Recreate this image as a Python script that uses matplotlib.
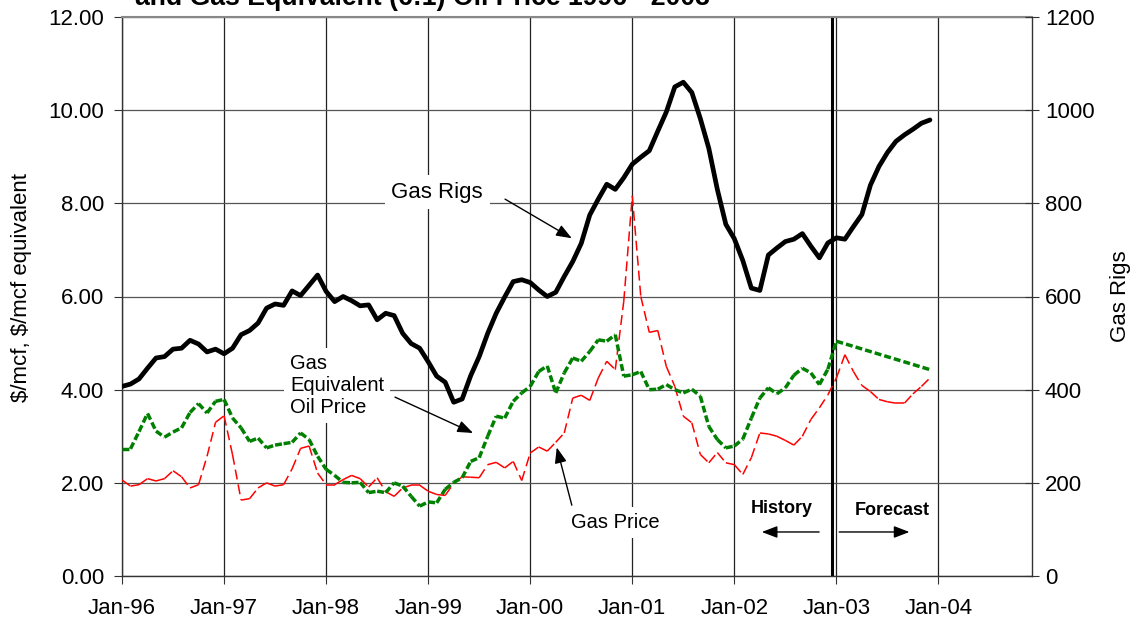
import numpy as np
import matplotlib
matplotlib.use('Agg')
import matplotlib.pyplot as plt
from matplotlib.collections import LineCollection

plt.rcParams['font.family'] = ['Liberation Sans', 'DejaVu Sans']
plt.rcParams['lines.scale_dashes'] = False

# ---------------- data (monthly, Jan-96 .. Dec-03) ----------------
x_tick_labels = ['Jan-96', 'Jan-97', 'Jan-98', 'Jan-99', 'Jan-00',
                 'Jan-01', 'Jan-02', 'Jan-03', 'Jan-04']

gas_rigs = [
    407, 412, 423, 446, 468, 471, 487, 489, 506, 498, 481, 487,   # 1996
    477, 489, 518, 527, 543, 575, 584, 581, 612, 602, 624, 646,   # 1997
    611, 589, 600, 591, 580, 582, 550, 564, 559, 521, 499, 489,   # 1998
    460, 429, 416, 373, 380, 430, 471, 521, 564, 599, 632, 636,   # 1999
    630, 614, 600, 609, 643, 675, 714, 775, 809, 841, 830, 855,   # 2000
    884, 899, 913, 955, 996, 1050, 1060, 1038, 982, 918, 830, 755,  # 2001
    724, 677, 618, 613, 689, 704, 718, 723, 735, 708, 683, 715,   # 2002
    726, 723, 750, 776, 839, 879, 909, 933, 947, 959, 972, 979,   # 2003
]

gas_price = [
    2.06, 1.93, 1.96, 2.09, 2.04, 2.09, 2.26, 2.13, 1.89, 1.96, 2.57, 3.30,  # 1996
    3.44, 2.60, 1.63, 1.66, 1.89, 2.00, 1.93, 1.96, 2.30, 2.74, 2.79, 2.21,  # 1997
    1.96, 1.96, 2.07, 2.16, 2.09, 1.91, 2.11, 1.81, 1.71, 1.89, 1.95, 1.95,  # 1998
    1.82, 1.75, 1.73, 1.99, 2.13, 2.12, 2.11, 2.39, 2.44, 2.32, 2.46, 2.05,  # 1999
    2.64, 2.77, 2.68, 2.87, 3.07, 3.82, 3.88, 3.77, 4.25, 4.61, 4.43, 5.90,  # 2000
    8.16, 6.00, 5.23, 5.27, 4.50, 4.07, 3.43, 3.29, 2.61, 2.43, 2.65, 2.43,  # 2001
    2.39, 2.18, 2.54, 3.07, 3.05, 3.00, 2.91, 2.81, 3.00, 3.36, 3.61, 3.89,  # 2002
    4.25, 4.75, 4.39, 4.09, 3.96, 3.79, 3.74, 3.71, 3.71, 3.91, 4.07, 4.25,  # 2003
]

# gas equivalent (6:1) oil price: monthly history Jan-96 .. Jan-03
oil_equiv_hist = [
    2.73, 2.73, 3.10, 3.49, 3.11, 2.98, 3.09, 3.18, 3.51, 3.70, 3.50, 3.75,  # 1996
    3.79, 3.39, 3.18, 2.89, 2.96, 2.75, 2.81, 2.84, 2.87, 3.07, 2.93, 2.57,  # 1997
    2.29, 2.16, 2.01, 2.00, 2.01, 1.79, 1.82, 1.79, 2.00, 1.93, 1.71, 1.50,  # 1998
    1.59, 1.57, 1.86, 2.01, 2.11, 2.46, 2.54, 3.00, 3.43, 3.39, 3.75, 3.93,  # 1999
    4.07, 4.39, 4.51, 3.93, 4.36, 4.68, 4.61, 4.82, 5.07, 5.04, 5.18, 4.29,  # 2000
    4.32, 4.39, 4.00, 4.01, 4.11, 4.00, 3.93, 4.01, 3.86, 3.21, 2.93, 2.75,  # 2001
    2.79, 2.94, 3.39, 3.82, 4.04, 3.91, 4.04, 4.31, 4.46, 4.36, 4.11, 4.44,  # 2002
    5.04,                                                                    # Jan-03
]
# forecast end point (Dec-03)
oil_equiv_fcst_end = 4.43

months = np.arange(len(gas_rigs))
oil_x = list(range(len(oil_equiv_hist))) + [len(gas_rigs) - 1]
oil_y = oil_equiv_hist + [oil_equiv_fcst_end]

# ---------------- figure ----------------
W, H = 1136, 621
fig = plt.figure(figsize=(W / 100, H / 100), dpi=100)
ax = fig.add_axes([122 / W, 1 - 576 / H, 910 / W, 559 / H])

ax.set_xlim(0, 107)
ax.set_ylim(0, 12)
ax.set_xticks(np.arange(0, 97, 12))
ax.set_xticklabels(x_tick_labels)
ax.set_yticks(np.arange(0, 12.01, 2))
ax.set_yticklabels([f'{v:.2f}' for v in np.arange(0, 12.01, 2)])

ax.xaxis.grid(True, color='#222222', lw=0.9)
ax.yaxis.grid(True, color='#555555', lw=0.9)
ax.set_axisbelow(True)

ax.tick_params(axis='x', direction='out', length=5.5, width=0.8, color='#333333',
               labelsize=16, pad=10)
ax.tick_params(axis='y', direction='out', length=6, width=0.8, color='#333333',
               labelsize=16, pad=7)
for s in ['left', 'bottom', 'right']:
    ax.spines[s].set_color('#333333')
    ax.spines[s].set_linewidth(1.0)
ax.spines['top'].set_color('#888888')
ax.spines['top'].set_linewidth(1.5)

ax.set_ylabel(r'\$/mcf, \$/mcf equivalent', fontsize=16)
ax.yaxis.set_label_coords(-0.099, 0.516)


def segments(x, y):
    pts = np.column_stack([np.asarray(x, float), np.asarray(y, float)])
    return np.stack([pts[:-1], pts[1:]], axis=1)


# gas price: thin red dashed line (dash pattern restarts on each segment)
red = LineCollection(segments(months, gas_price), colors='#ff0000',
                     linewidths=1.1, linestyles=[(0, (7.2, 3.6))],
                     capstyle='butt', zorder=3)
ax.add_collection(red)

# gas equivalent oil price: thick green dashed line
green = LineCollection(segments(oil_x, oil_y), colors='#008000',
                       linewidths=2.5, linestyles=[(0, (5.0, 2.2))],
                       capstyle='butt', zorder=4)
ax.add_collection(green)

# history / forecast separator
ax.axvline(83.46, color='black', lw=2.2, zorder=2)

# secondary axis: gas rigs
ax2 = ax.twinx()
ax2.set_ylim(0, 1200)
ax2.set_yticks(np.arange(0, 1201, 200))
ax2.tick_params(axis='y', direction='inout', length=10.4, width=0.8,
                color='#333333', labelsize=16, pad=4)
for s in ax2.spines.values():
    s.set_visible(False)
ax2.plot(months, gas_rigs, color='black', lw=3.4, solid_joinstyle='round',
         solid_capstyle='round', zorder=5)
ax2.set_ylabel('Gas Rigs', fontsize=16)
ax2.yaxis.set_label_coords(1.0857, 0.5)

# ---------------- annotations ----------------
box = dict(boxstyle='square,pad=0.3', fc='white', ec='none')
arrow = dict(arrowstyle='-|>,head_length=0.94,head_width=0.36', color='black',
             lw=1.0, mutation_scale=10, shrinkA=0, shrinkB=0)

ax.text(37.05, 8.24, 'Gas Rigs', ha='center', va='center', fontsize=16,
        bbox=box, zorder=6)
ax.annotate('', xy=(52.89, 7.25), xytext=(45.04, 8.09), arrowprops=arrow, zorder=6)

ax.text(19.76, 4.08, 'Gas\nEquivalent\nOil Price', ha='left', va='center',
        fontsize=14.5, linespacing=1.2, bbox=box, zorder=6)
ax.annotate('', xy=(41.28, 3.07), xytext=(32.1, 3.84), arrowprops=arrow, zorder=6)

ax.text(58.02, 1.14, 'Gas Price', ha='center', va='center', fontsize=14.5,
        bbox=box, zorder=6)
ax.annotate('', xy=(51.12, 2.76), xytext=(52.89, 1.52), arrowprops=arrow, zorder=6)

ax.text(77.62, 1.44, 'History', ha='center', va='center', fontsize=13,
        fontweight='bold', zorder=6)
ax.annotate('', xy=(75.23, 0.945), xytext=(81.97, 0.945), arrowprops=arrow, zorder=6)
ax.text(90.62, 1.40, 'Forecast', ha='center', va='center', fontsize=13,
        fontweight='bold', zorder=6)
ax.annotate('', xy=(92.59, 0.945), xytext=(84.33, 0.945), arrowprops=arrow, zorder=6)

fig.text(422.5 / W, 1 - 5 / H, 'and Gas Equivalent (6:1) Oil Price 1996 - 2003',
         ha='center', va='baseline', fontsize=19.2, fontweight='bold')

fig.savefig('out.png', dpi=100)
